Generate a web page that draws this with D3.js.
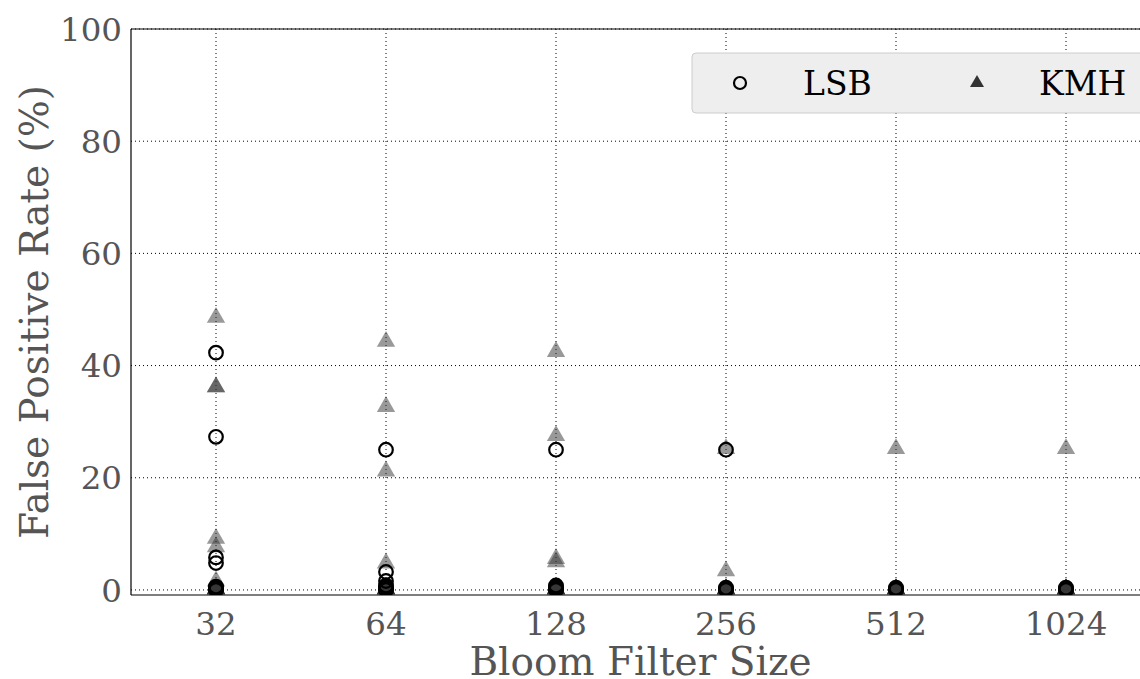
<!DOCTYPE html>
<html>
<head>
<meta charset="utf-8">
<script src="https://cdn.jsdelivr.net/npm/d3@7"></script>
<style>
  body { margin: 0; background: #fff; }
  svg text { font-family: "DejaVu Serif", serif; }
  .grid line { stroke: #000; stroke-width: 1; stroke-dasharray: 1,3; }
  .tick-label { fill: #555; font-size: 32.5px; }
  .axis-title { fill: #555; font-size: 39px; }
</style>
</head>
<body>
<div id="chart"></div>
<script>
// categories on the x axis
var sizes = ["32", "64", "128", "256", "512", "1024"];
var yTicks = [0, 20, 40, 60, 80, 100];

// false positive rates (%) per bloom filter size
var lsbValues = [
  [42.3, 27.3, 5.8, 4.8, 0.6, 0.4, 0.2, 0.1, 0],
  [25, 3.2, 1.6, 0.8, 0.5, 0.3, 0.1, 0],
  [25, 0.8, 0.5, 0.3, 0.1, 0],
  [25, 0.4, 0.2, 0.1, 0],
  [0.4, 0.2, 0.1, 0],
  [0.4, 0.2, 0.1, 0]
];
var kmhValues = [
  [48.4, 36, 36, 9, 7.5, 1.4, 0, 0, 0, 0, 0, 0],
  [44.1, 32.5, 21, 4.6, 0, 0, 0, 0, 0, 0],
  [42.3, 27.3, 5.4, 4.8, 0, 0, 0, 0, 0, 0],
  [25, 3.2, 0, 0, 0, 0, 0, 0],
  [25, 0, 0, 0, 0, 0, 0],
  [25, 0, 0, 0, 0, 0, 0]
];

var W = 1140, H = 679;
var margin = {top: 29, left: 131, bottom: 84};
var plotRight = 1151; // right edge falls outside the window

var svg = d3.select("#chart").append("svg")
  .attr("width", W)
  .attr("height", H);

var x = d3.scaleLinear().domain([-0.5, sizes.length - 0.5]).range([margin.left, plotRight]);
var y = d3.scaleLinear().domain([-0.9, 100]).range([H - margin.bottom, margin.top]);

svg.append("clipPath").attr("id", "plotclip")
  .append("rect")
  .attr("x", x(-0.5)).attr("y", y(100))
  .attr("width", x(5.5) - x(-0.5)).attr("height", y(-0.9) - y(100));

// grid
var grid = svg.append("g").attr("class", "grid");
grid.selectAll(".gx").data(sizes).enter().append("line")
  .attr("x1", function(d, i) { return x(i); })
  .attr("x2", function(d, i) { return x(i); })
  .attr("y1", y(100)).attr("y2", y(-0.9));
grid.selectAll(".gy").data(yTicks).enter().append("line")
  .attr("y1", function(d) { return y(d); })
  .attr("y2", function(d) { return y(d); })
  .attr("x1", x(-0.5)).attr("x2", x(5.5));

// points
var pts = svg.append("g").attr("clip-path", "url(#plotclip)");

var kmh = [];
kmhValues.forEach(function(vals, i) { vals.forEach(function(v) { kmh.push({i: i, v: v}); }); });
var lsb = [];
lsbValues.forEach(function(vals, i) { vals.forEach(function(v) { lsb.push({i: i, v: v}); }); });

var tri = d3.symbol().type(d3.symbolTriangle).size(145);
pts.selectAll(".kmh").data(kmh).enter().append("path")
  .attr("class", "kmh")
  .attr("d", tri)
  .attr("transform", function(d) { return "translate(" + x(d.i) + "," + (y(d.v) - 1) + ")"; })
  .attr("fill", "#333")
  .attr("fill-opacity", 0.5);

pts.selectAll(".lsb").data(lsb).enter().append("circle")
  .attr("class", "lsb")
  .attr("cx", function(d) { return x(d.i); })
  .attr("cy", function(d) { return y(d.v); })
  .attr("r", 6.8)
  .attr("fill", "none")
  .attr("stroke", "#000")
  .attr("stroke-width", 2.2);

// spines
svg.append("line").attr("x1", x(-0.5)).attr("x2", x(-0.5)).attr("y1", y(100)).attr("y2", y(-0.9))
  .attr("stroke", "#000").attr("stroke-width", 1.2);
svg.append("line").attr("x1", x(-0.5)).attr("x2", x(5.5)).attr("y1", y(-0.9)).attr("y2", y(-0.9))
  .attr("stroke", "#000").attr("stroke-width", 1.2);
svg.append("line").attr("x1", x(-0.5)).attr("x2", x(5.5)).attr("y1", y(100)).attr("y2", y(100))
  .attr("stroke", "#000").attr("stroke-width", 1);

// tick labels
svg.selectAll(".ylab").data(yTicks).enter().append("text")
  .attr("class", "tick-label")
  .attr("x", x(-0.5) - 9)
  .attr("y", function(d) { return y(d); })
  .attr("dy", "0.36em")
  .attr("text-anchor", "end")
  .text(function(d) { return d; });

svg.selectAll(".xlab").data(sizes).enter().append("text")
  .attr("class", "tick-label")
  .attr("x", function(d, i) { return x(i); })
  .attr("y", y(-0.9) + 40)
  .attr("text-anchor", "middle")
  .text(function(d) { return d; });

// axis titles
svg.append("text").attr("class", "axis-title")
  .attr("x", (x(-0.5) + 1140) / 2 + 5)
  .attr("y", 675)
  .attr("text-anchor", "middle")
  .text("Bloom Filter Size");

svg.append("text").attr("class", "axis-title")
  .attr("transform", "translate(48," + ((y(100) + y(-0.9)) / 2) + ") rotate(-90)")
  .attr("text-anchor", "middle")
  .text("False Positive Rate (%)");

// legend
var lg = svg.append("g").attr("transform", "translate(692,53)");
lg.append("rect")
  .attr("width", 470).attr("height", 60)
  .attr("rx", 4).attr("ry", 4)
  .attr("fill", "#eeeeee")
  .attr("stroke", "#cccccc");
lg.append("circle").attr("cx", 48).attr("cy", 30).attr("r", 6)
  .attr("fill", "none").attr("stroke", "#000").attr("stroke-width", 2.2);
lg.append("text").attr("x", 111).attr("y", 30).attr("dy", "0.36em")
  .style("font-size", "33px").attr("fill", "#000").text("LSB");
lg.append("path").attr("d", d3.symbol().type(d3.symbolTriangle).size(85))
  .attr("transform", "translate(285,30)").attr("fill", "#333");
lg.append("text").attr("x", 347).attr("y", 30).attr("dy", "0.36em")
  .style("font-size", "33px").attr("fill", "#000").text("KMH");
</script>
</body>
</html>
